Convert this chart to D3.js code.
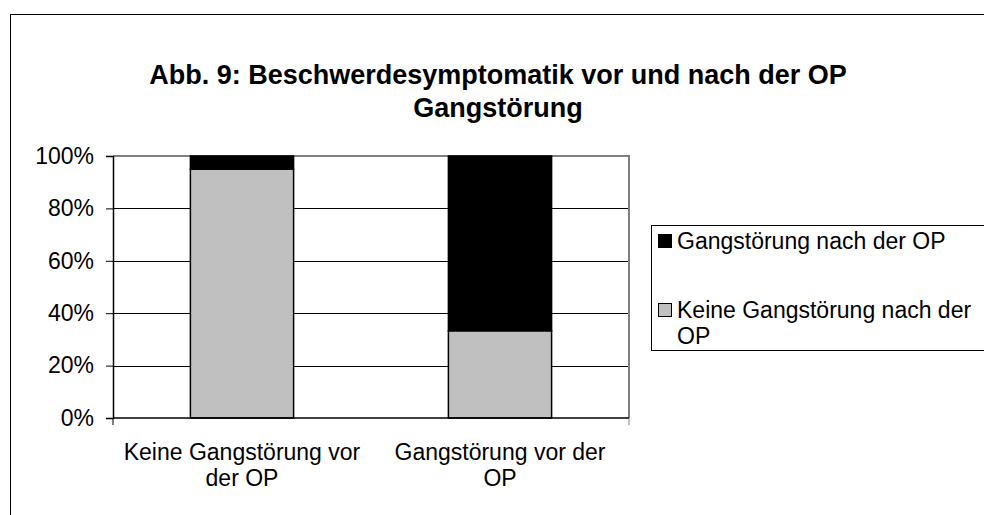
<!DOCTYPE html>
<html>
<head>
<meta charset="utf-8">
<script src="https://cdn.jsdelivr.net/npm/d3@7"></script>
<style>
  body { margin: 0; background: #fff; }
  text { font-family: "Liberation Sans", Arial, sans-serif; fill: #000; }
</style>
</head>
<body>
<svg id="chart" width="984" height="515"></svg>
<script>
// Data
const categories = ["Keine Gangstörung vor der OP", "Gangstörung vor der OP"];
const categoryLines = [["Keine Gangstörung vor", "der OP"], ["Gangstörung vor der", "OP"]];
const seriesNames = ["Keine Gangstörung nach der OP", "Gangstörung nach der OP"];
const keineNach = [95, 33.3];
const gangNach = [5, 66.7];
const yTicks = [0, 20, 40, 60, 80, 100];
const titleLines = ["Abb. 9: Beschwerdesymptomatik vor und nach der OP", "Gangstörung"];

const colors = { "Keine Gangstörung nach der OP": "#c0c0c0", "Gangstörung nach der OP": "#000000" };

const svg = d3.select("#chart");

// outer chart frame (runs off the right and bottom)
svg.append("rect")
    .attr("x", 10.5).attr("y", 14.5)
    .attr("width", 1000).attr("height", 600)
    .attr("fill", "#fff").attr("stroke", "#000").attr("stroke-width", 1);

// title
svg.append("text")
    .attr("text-anchor", "middle")
    .style("font-size", "27px").style("font-weight", "bold")
    .selectAll("tspan")
    .data(titleLines)
    .enter()
    .append("tspan")
    .attr("x", 498)
    .attr("y", (d, i) => 84 + i * 33)
    .text(d => d);

// plot area
const plot = { left: 113, top: 156, right: 629, bottom: 418 };

const x = d3.scaleBand()
    .domain(categories)
    .range([plot.left, plot.right])
    .paddingInner(0.6)
    .paddingOuter(0.3);

const y = d3.scaleLinear()
    .domain([0, 100])
    .range([plot.bottom, plot.top]);

// gridlines
svg.append("g")
    .selectAll("line")
    .data(yTicks.slice(1, -1))
    .enter()
    .append("line")
    .attr("x1", plot.left).attr("x2", plot.right)
    .attr("y1", d => Math.round(y(d)) + 0.5).attr("y2", d => Math.round(y(d)) + 0.5)
    .attr("stroke", "#000").attr("stroke-width", 1);

// plot border (top / right gray)
svg.append("path")
    .attr("d", `M${plot.left},${plot.top}H${plot.right}V${plot.bottom}`)
    .attr("fill", "none").attr("stroke", "#808080").attr("stroke-width", 2);

// stacked bars
const table = categories.map((c, i) => ({
    category: c,
    "Keine Gangstörung nach der OP": keineNach[i],
    "Gangstörung nach der OP": gangNach[i]
}));
const stacked = d3.stack().keys(seriesNames)(table);

svg.append("g")
    .selectAll("g")
    .data(stacked)
    .enter()
    .append("g")
    .attr("fill", d => colors[d.key])
    .selectAll("rect")
    .data(d => d)
    .enter()
    .append("rect")
    .attr("x", d => x(d.data.category))
    .attr("width", x.bandwidth())
    .attr("y", d => y(d[1]))
    .attr("height", d => y(d[0]) - y(d[1]))
    .attr("stroke", "#000").attr("stroke-width", 1.5);

// y axis
const yAxis = d3.axisLeft(y)
    .tickValues(yTicks)
    .tickFormat(d => d + "%")
    .tickSize(7)
    .tickPadding(12);

const yg = svg.append("g")
    .attr("transform", `translate(${plot.left},0)`)
    .call(yAxis);
yg.select(".domain").attr("stroke", "#000").attr("stroke-width", 1.5);
yg.selectAll(".tick line").attr("stroke", "#000");
yg.selectAll(".tick text").style("font-size", "23px").attr("fill", "#000");

// x axis line with ticks at the edges
svg.append("line")
    .attr("x1", plot.left).attr("x2", plot.right)
    .attr("y1", plot.bottom).attr("y2", plot.bottom)
    .attr("stroke", "#000").attr("stroke-width", 1.5);
svg.append("g")
    .selectAll("line")
    .data([plot.left, plot.right])
    .enter()
    .append("line")
    .attr("x1", d => d).attr("x2", d => d)
    .attr("y1", plot.bottom).attr("y2", plot.bottom + 7)
    .attr("stroke", (d, i) => i === 0 ? "#000" : "#808080");

// category labels
svg.append("g")
    .selectAll("text")
    .data(categories)
    .enter()
    .append("text")
    .attr("text-anchor", "middle")
    .style("font-size", "23px")
    .each(function (d, i) {
        const cx = x(d) + x.bandwidth() / 2;
        d3.select(this).selectAll("tspan")
            .data(categoryLines[i])
            .enter()
            .append("tspan")
            .attr("x", cx)
            .attr("y", (t, j) => 460 + j * 26)
            .text(t => t);
    });

// legend
const legend = svg.append("g");
legend.append("rect")
    .attr("x", 651.5).attr("y", 225.5)
    .attr("width", 400).attr("height", 125)
    .attr("fill", "#fff").attr("stroke", "#000");

const legendItems = [
    { name: "Gangstörung nach der OP", lines: ["Gangstörung nach der OP"], y: 249 },
    { name: "Keine Gangstörung nach der OP", lines: ["Keine Gangstörung nach der", "OP"], y: 318 }
];

const li = legend.selectAll(".item")
    .data(legendItems)
    .enter()
    .append("g")
    .attr("class", "item");

li.append("rect")
    .attr("x", 658.5).attr("y", d => d.y - 14.5)
    .attr("width", 13).attr("height", 13)
    .attr("fill", d => colors[d.name])
    .attr("stroke", "#000");

li.append("text")
    .style("font-size", "23px")
    .each(function (d) {
        d3.select(this).selectAll("tspan")
            .data(d.lines)
            .enter()
            .append("tspan")
            .attr("x", 677)
            .attr("y", (t, j) => d.y + j * 26)
            .text(t => t);
    });
</script>
</body>
</html>
